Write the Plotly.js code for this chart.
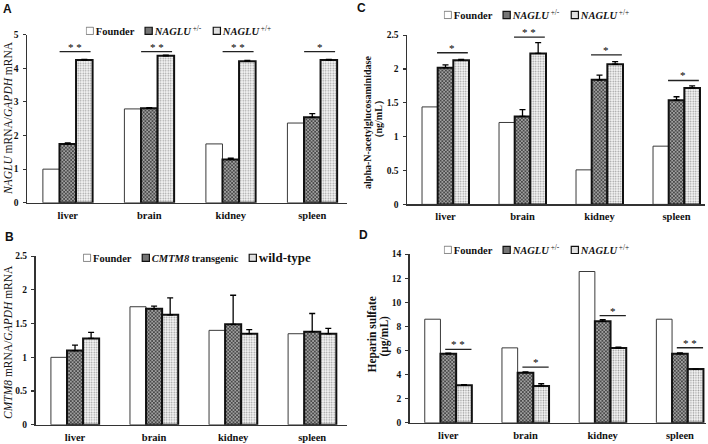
<!DOCTYPE html>
<html>
<head>
<meta charset="utf-8">
<script src="https://cdn.plot.ly/plotly-3.0.1.min.js"></script>
<style>html,body{margin:0;padding:0;background:#fff;}#chart{width:708px;height:444px;}</style>
</head>
<body>
<div id="chart"></div>
<script>
// ---------- data ----------
const categories = ['liver', 'brain', 'kidney', 'spleen'];

// Panel A: NAGLU mRNA / GAPDH mRNA
const aFounder = [1.00, 2.79, 1.75, 2.37];
const aHet     = [1.75, 2.81, 1.29, 2.54];
const aHetErr  = [0.03, 0.02, 0.04, 0.11];
const aHom     = [4.24, 4.37, 4.21, 4.24];
const aHomErr  = [0.02, 0.02, 0.02, 0.02];
const sigA     = ['* *', '* *', '* *', '*'];
const sigAY    = [4.49, 4.49, 4.49, 4.49];

// Panel B: CMTM8 mRNA / GAPDH mRNA
const bFounder = [1.00, 1.75, 1.40, 1.35];
const bTg      = [1.10, 1.72, 1.49, 1.38];
const bTgErr   = [0.08, 0.04, 0.43, 0.27];
const bWt      = [1.28, 1.63, 1.35, 1.35];
const bWtErr   = [0.09, 0.25, 0.06, 0.08];

// Panel C: alpha-N-acetylglucosaminidase (ng/mL)
const cFounder = [1.44, 1.21, 0.51, 0.86];
const cHet     = [2.02, 1.30, 1.84, 1.54];
const cHetErr  = [0.04, 0.10, 0.07, 0.05];
const cHom     = [2.13, 2.23, 2.07, 1.72];
const cHomErr  = [0.01, 0.16, 0.04, 0.03];
const sigC     = ['*', '* *', '*', '*'];
const sigCY    = [2.24, 2.47, 2.21, 1.83];

// Panel D: Heparin sulfate (ug/mL)
const dFounder = [8.60, 6.22, 12.56, 8.60];
const dHet     = [5.73, 4.16, 8.43, 5.73];
const dHetErr  = [0.06, 0.06, 0.14, 0.07];
const dHom     = [3.11, 3.06, 6.20, 4.46];
const dHomErr  = [0.05, 0.18, 0.08, 0.00];
const sigD     = ['* *', '*', '*', '* *'];
const sigDY    = [6.09, 4.63, 8.90, 6.23];

// ---------- styles ----------
const SERIF = 'Liberation Serif, Times New Roman, serif';
const SANS = 'Liberation Sans, Arial, sans-serif';
const W = 708, H = 444;

const founderStyle = {color: '#ffffff', line: {color: '#3a3a3a', width: 1}};
const hetStyle = {color: '#8c8c8c', line: {color: '#111', width: 2},
  pattern: {shape: 'x', fgcolor: '#2a2a2a', bgcolor: '#a0a0a0', size: 2.5, solidity: 0.45}};
const homStyle = {color: '#eeeeee', line: {color: '#111', width: 2},
  pattern: {shape: '.', fgcolor: '#9a9a9a', bgcolor: '#f7f7f7', size: 2.5, solidity: 0.3}};

function err(arr) {
  return {type: 'data', array: arr, arrayminus: arr.map(() => 0), symmetric: false,
          color: '#000', thickness: 1.3, width: 3};
}

function panel(ax, legend, names, vals, errs) {
  const xa = 'x' + (ax === 1 ? '' : ax), ya = 'y' + (ax === 1 ? '' : ax);
  return [
    {type: 'bar', x: categories, y: vals[0], name: names[0], xaxis: xa, yaxis: ya,
     legend: legend, marker: founderStyle, hoverinfo: 'none'},
    {type: 'bar', x: categories, y: vals[1], name: names[1], xaxis: xa, yaxis: ya,
     legend: legend, marker: hetStyle, error_y: err(errs[0]), hoverinfo: 'none'},
    {type: 'bar', x: categories, y: vals[2], name: names[2], xaxis: xa, yaxis: ya,
     legend: legend, marker: homStyle, error_y: err(errs[1]), hoverinfo: 'none'}
  ];
}

const nagluNames = ['<b>Founder</b>', '<b><i>NAGLU</i></b><sup> +/-</sup>', '<b><i>NAGLU</i></b><sup> +/+</sup>'];
const cmtmNames = ['<b>Founder</b>', '<b><i>CMTM8</i> transgenic</b>', '<span style="font-size:13px"><b>wild-type</b></span>'];

const data = [].concat(
  panel(1, 'legend', nagluNames, [aFounder, aHet, aHom], [aHetErr, aHomErr]),
  panel(2, 'legend2', cmtmNames, [bFounder, bTg, bWt], [bTgErr, bWtErr]),
  panel(3, 'legend3', nagluNames, [cFounder, cHet, cHom], [cHetErr, cHomErr]),
  panel(4, 'legend4', nagluNames, [dFounder, dHet, dHom], [dHetErr, dHomErr])
);

// ---------- axes ----------
function px(x) { return x / W; }
function py(y) { return 1 - y / H; }

function xaxis(x0, x1, r1, anchor) {
  return {domain: [px(x0), px(x1)], range: [-0.5, r1], anchor: anchor, type: 'category',
          showline: true, linecolor: '#333', linewidth: 1.5, ticks: '', showgrid: false,
          zeroline: false, ticklabelstandoff: 2,
          tickfont: {family: SERIF, size: 10.5, color: '#111', weight: 'bold'}, fixedrange: true};
}
function yaxis(y0, y1, rmax, dt, anchor) {
  return {domain: [py(y1), py(y0)], range: [0, rmax], dtick: dt, anchor: anchor,
          showline: true, linecolor: '#333', linewidth: 1.5, ticks: 'outside', ticklen: 3,
          tickcolor: '#333', tickwidth: 1.2, showgrid: false, zeroline: false,
          ticklabelstandoff: 2,
          tickfont: {family: SERIF, size: 9.5, color: '#111', weight: 'bold'}, fixedrange: true};
}

function legendAt(cx, cy) {
  return {orientation: 'h', x: px(cx), y: py(cy), xanchor: 'center', yanchor: 'middle',
          bgcolor: 'rgba(0,0,0,0)', itemwidth: 30, tracegroupgap: 0,
          font: {family: SERIF, size: 10.5, color: '#111'}, itemclick: false};
}
const legendCenters = {legend: 179, legend2: 197, legend3: 537, legend4: 537};

// significance annotations
const shapes = [];
const annotations = [];
function sig(axn, labels, ys, x0off, x1off) {
  const xr = 'x' + (axn === 1 ? '' : axn), yr = 'y' + (axn === 1 ? '' : axn);
  labels.forEach((lab, i) => {
    shapes.push({type: 'line', xref: xr, yref: yr, x0: i + x0off, x1: i + x1off,
                 y0: ys[i], y1: ys[i], line: {color: '#222', width: 1.3}});
    annotations.push({xref: xr, yref: yr, x: i + (x0off + x1off) / 2, y: ys[i], text: lab,
                      showarrow: false, yanchor: 'bottom', yshift: -3,
                      font: {family: SERIF, size: 11, color: '#000'}});
  });
}
sig(1, sigA, sigAY, -0.10, 0.28);
sig(3, sigC, sigCY, -0.11, 0.29);
sig(4, sigD, sigDY, -0.04, 0.30);

// panel letters
[['A', 7, 7], ['C', 361, 6], ['B', 9, 236], ['D', 363, 234]].forEach(l => {
  annotations.push({xref: 'paper', yref: 'paper', x: px(l[1]), y: py(l[2]), text: '<b>' + l[0] + '</b>',
                    showarrow: false, xanchor: 'center', yanchor: 'middle',
                    font: {family: SANS, size: 12, color: '#111'}});
});

// y-axis titles
function ytitle(text, cx, cy, size, bold) {
  annotations.push({xref: 'paper', yref: 'paper', x: px(cx), y: py(cy),
                    text: bold ? '<b>' + text + '</b>' : text, textangle: -90,
                    showarrow: false, xanchor: 'center', yanchor: 'middle',
                    font: {family: SERIF, size: size, color: '#111'}});
}
ytitle('<i>NAGLU</i> mRNA/<i>GAPDH</i> mRNA', 8.5, 117, 11.5, false);
ytitle('<i>CMTM8</i> mRNA/<i>GAPDH</i> mRNA', 8.5, 342, 11.5, false);
ytitle('alpha-N-acetylglucosaminidase', 367.5, 121, 10, true);
ytitle('（ng/mL）', 378, 118, 10, true);
ytitle('Heparin sulfate', 372, 334, 11.5, true);
ytitle('(μg/mL)', 384, 336, 11.5, true);

const layout = {
  width: W, height: H, autosize: false,
  margin: {l: 0, r: 0, t: 0, b: 0},
  paper_bgcolor: '#fff', plot_bgcolor: 'rgba(0,0,0,0)',
  barmode: 'group', bargap: 0.39, bargroupgap: 0,
  showlegend: true,
  xaxis: xaxis(27, 346.5, 3.42, 'y'),
  yaxis: yaxis(32.7, 201.7, 5, 1, 'x'),
  xaxis2: xaxis(35.5, 347, 3.44, 'y2'),
  yaxis2: yaxis(255.3, 424.7, 2.5, 0.5, 'x2'),
  xaxis3: xaxis(407, 705, 3.37, 'y3'),
  yaxis3: yaxis(33.3, 203.3, 2.5, 0.5, 'x3'),
  xaxis4: xaxis(409.7, 706, 3.338, 'y4'),
  yaxis4: yaxis(253.3, 422.7, 14, 2, 'x4'),
  legend: legendAt(legendCenters.legend, 29),
  legend2: legendAt(legendCenters.legend2, 257),
  legend3: legendAt(legendCenters.legend3, 13),
  legend4: legendAt(legendCenters.legend4, 249),
  shapes: shapes,
  annotations: annotations
};

// compact the legend entries (small square key right before its label, as in the original)
function parseT(el) {
  const m = /translate\(\s*([-\d.e]+)[\s,]+([-\d.e]+)\s*\)/.exec(el.getAttribute('transform') || '');
  return m ? [parseFloat(m[1]), parseFloat(m[2])] : [0, 0];
}
function compactLegend(name, cx, gap) {
  const lg = document.querySelector('g.' + name);
  if (!lg) return;
  const items = Array.from(lg.querySelectorAll('g.traces'));
  if (!items.length) return;
  const S = 0.6, textX = 10;
  let startX = null, cur = 0;
  items.forEach(it => {
    const [ox, oy] = parseT(it);
    if (startX === null) startX = ox;
    const layers = it.querySelector('g.layers') || it.querySelector('g');
    if (layers) {
      const bb = layers.getBBox();
      const ccx = bb.x + bb.width / 2, ccy = bb.y + bb.height / 2;
      const t = layers.getAttribute('transform') || '';
      layers.setAttribute('transform', t + ` translate(${4},${ccy}) scale(${S}) translate(${-ccx},${-ccy})`);
    }
    const txt = it.querySelector('text.' + name + 'text') || it.querySelector('text');
    let tw = 0;
    if (txt) {
      txt.setAttribute('x', textX);
      tw = txt.getBBox().width;
    }
    it.setAttribute('transform', `translate(${startX + cur},${oy})`);
    cur += textX + tw + gap;
  });
  const total = cur - gap;
  const [, ly] = parseT(lg);
  lg.setAttribute('transform', `translate(${cx - total / 2 - startX},${ly})`);
}

Plotly.newPlot('chart', data, layout, {staticPlot: true, displayModeBar: false}).then(() => {
  Object.keys(legendCenters).forEach(k => compactLegend(k, legendCenters[k], 10));
});
</script>
</body>
</html>
